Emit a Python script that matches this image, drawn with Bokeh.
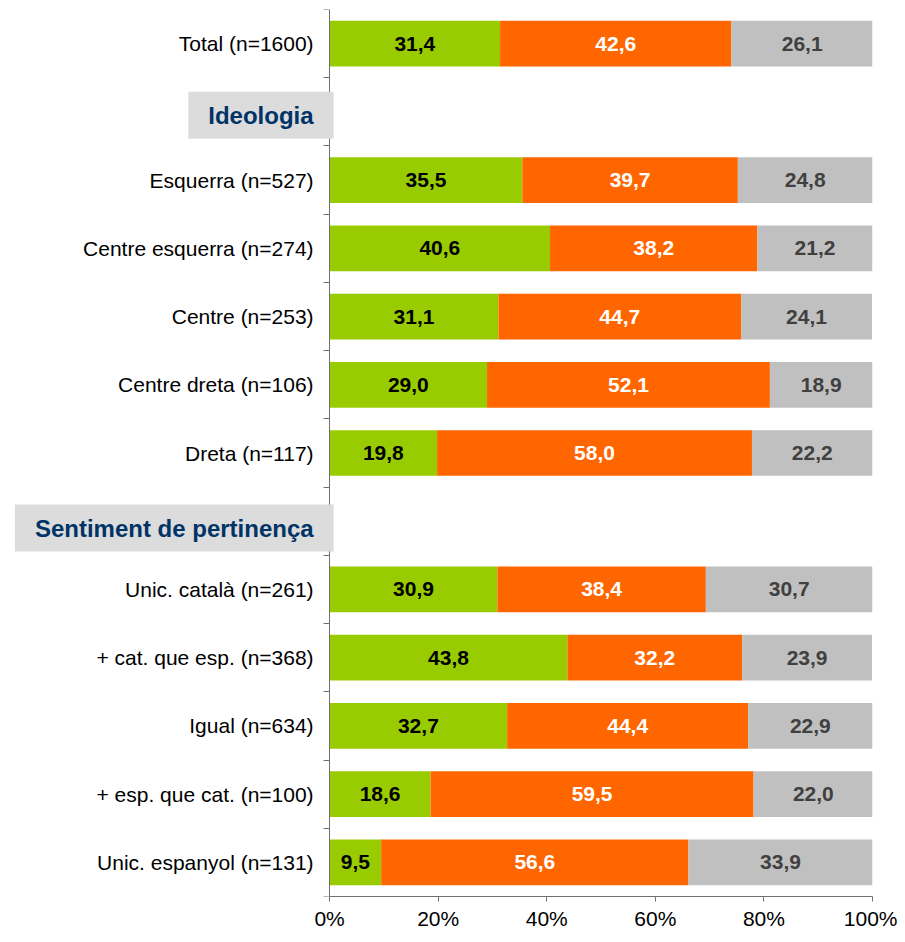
from bokeh.plotting import figure
from bokeh.models import Range1d, FixedTicker, ColumnDataSource, Label
from bokeh.embed import file_html
from bokeh.resources import INLINE
from bokeh.core.properties import value

rows = ["Total (n=1600)", "Ideologia", "Esquerra (n=527)", "Centre esquerra (n=274)",
        "Centre (n=253)", "Centre dreta (n=106)", "Dreta (n=117)",
        "Sentiment de pertinença", "Unic. català (n=261)", "+ cat. que esp. (n=368)",
        "Igual (n=634)", "+ esp. que cat. (n=100)", "Unic. espanyol (n=131)"]
headers = ["Ideologia", "Sentiment de pertinença"]
header_shift = {"Ideologia": 0.05, "Sentiment de pertinença": 0.10}
s1 = [31.4, None, 35.5, 40.6, 31.1, 29.0, 19.8, None, 30.9, 43.8, 32.7, 18.6, 9.5]
s2 = [42.6, None, 39.7, 38.2, 44.7, 52.1, 58.0, None, 38.4, 32.2, 44.4, 59.5, 56.6]
s3 = [26.1, None, 24.8, 21.2, 24.1, 18.9, 22.2, None, 30.7, 23.9, 22.9, 22.0, 33.9]
colors = ["#99CC00", "#FF6600", "#C0C0C0"]
text_colors = ["#000000", "#FFFFFF", "#404040"]
xticks = [0, 20, 40, 60, 80, 100]

FONT = "Liberation Sans"
AXIS_COLOR = "#707070"
n = len(rows)

p = figure(width=897, height=932, x_range=Range1d(-59.7, 100), y_range=Range1d(n, 0),
           output_backend="svg", toolbar_location=None,
           min_border_left=5, min_border_right=25, min_border_top=9, min_border_bottom=34)
p.outline_line_color = None
p.xgrid.grid_line_color = None
p.ygrid.grid_line_color = None

centers = [i + 0.5 for i in range(n)]
series = [s1, s2, s3]
for k, s in enumerate(series):
    ys, lefts, rights, labels, mids = [], [], [], [], []
    for i in range(n):
        if s[i] is None:
            continue
        left = sum(series[j][i] for j in range(k))
        ys.append(centers[i]); lefts.append(left); rights.append(left + s[i])
        mids.append(left + s[i] / 2); labels.append(f"{s[i]:.1f}".replace(".", ","))
    src = ColumnDataSource(dict(y=ys, left=lefts, right=rights, mid=mids, label=labels))
    p.hbar(y="y", left="left", right="right", height=0.67, source=src,
           fill_color=colors[k], line_color=None)
    p.text(x="mid", y="y", text="label", source=src, text_align="center",
           text_baseline="middle", text_font=value(FONT), text_font_size="21px",
           text_font_style="bold", text_color=text_colors[k])

# x axis
xa = p.xaxis[0]
xa.bounds = (0, 100)
xa.ticker = FixedTicker(ticks=xticks, minor_ticks=[])
xa.major_label_overrides = {t: f"{t}%" for t in xticks}
xa.major_label_text_font = FONT
xa.major_label_text_font_size = "21px"
xa.major_label_text_color = "#000000"
xa.axis_line_color = AXIS_COLOR
xa.major_tick_line_color = AXIS_COLOR
xa.major_tick_out = 5
xa.major_tick_in = 0
xa.major_label_standoff = 5

# y axis placed at x = 0
ya = p.yaxis[0]
ya.fixed_location = 0
ya.ticker = FixedTicker(ticks=centers, minor_ticks=list(range(n + 1)))
ya.major_label_overrides = {c: ("" if r in headers else r) for c, r in zip(centers, rows)}
ya.major_label_text_font = FONT
ya.major_label_text_font_size = "21px"
ya.major_label_text_color = "#000000"
ya.axis_line_color = AXIS_COLOR
ya.major_tick_line_color = None
ya.minor_tick_line_color = AXIS_COLOR
ya.minor_tick_out = 6
ya.minor_tick_in = 0
ya.major_label_standoff = 10

for i, r in enumerate(rows):
    if r in headers:
        lab = Label(x=0.74, y=centers[i] + header_shift[r], text=r, text_align="right",
                    text_baseline="middle", text_font=FONT, text_font_size="24px",
                    text_font_style="bold", text_color="#003366",
                    background_fill_color="#DCDCDC", padding=(20, 10))
        p.add_layout(lab)

open("out.html", "w").write(file_html(p, INLINE))
